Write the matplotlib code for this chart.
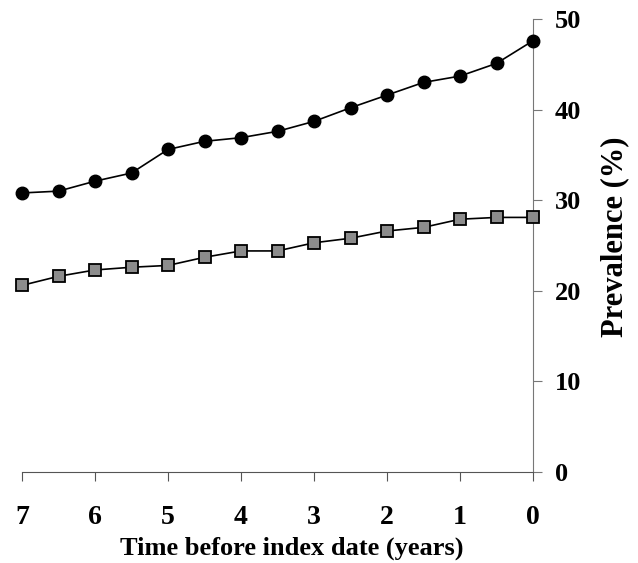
import matplotlib.pyplot as plt

# Time before index date (years)
years = [7, 6.5, 6, 5.5, 5, 4.5, 4, 3.5, 3, 2.5, 2, 1.5, 1, 0.5, 0]
# circles (upper series)
prev_circle = [30.8, 31.0, 32.1, 33.0, 35.6, 36.5, 36.9, 37.6, 38.7,
               40.2, 41.6, 43.0, 43.7, 45.1, 47.6]
# squares (lower series)
prev_square = [20.6, 21.6, 22.3, 22.6, 22.8, 23.7, 24.4, 24.4, 25.3,
               25.8, 26.6, 27.0, 27.9, 28.1, 28.1]
xticks = [7, 6, 5, 4, 3, 2, 1, 0]
yticks = [0, 10, 20, 30, 40, 50]

plt.rcParams['font.family'] = 'Liberation Serif'
plt.rcParams['font.weight'] = 'bold'

fig = plt.figure(figsize=(6.38, 5.63), dpi=100)
ax = fig.add_axes([22 / 638, 1 - 472 / 563, (533 - 22) / 638, (472 - 19) / 563])

ax.plot(years, prev_circle, color='black', lw=1.2, marker='o', ms=9,
        mfc='black', mec='black', clip_on=False, zorder=3)
ax.plot(years, prev_square, color='black', lw=1.2, marker='s', ms=8,
        mfc='#8c8c8c', mec='black', mew=1.3, clip_on=False, zorder=3)

ax.set_xlim(7, 0)
ax.set_ylim(0, 50)
ax.set_xticks(xticks)
ax.set_yticks(yticks)

ax.spines['top'].set_visible(False)
ax.spines['left'].set_visible(False)
ax.spines['bottom'].set_color('#555555')
ax.spines['right'].set_color('#777777')
ax.spines['bottom'].set_linewidth(0.8)
ax.spines['right'].set_linewidth(0.8)

ax.yaxis.tick_right()
ax.yaxis.set_label_position('right')
ax.tick_params(axis='x', direction='out', length=6.5, width=0.8, color='#555555',
               pad=17, labelsize=20)
ax.tick_params(axis='y', direction='out', length=6.5, width=0.8, color='#777777',
               pad=9, labelsize=19)
for lab in ax.get_xticklabels() + ax.get_yticklabels():
    lab.set_fontweight('bold')

ax.set_xlabel('Time before index date (years)', fontsize=19, fontweight='bold',
              va='center')
ax.xaxis.set_label_coords(0.528, -0.168)
ax.set_ylabel('Prevalence (%)', fontsize=22, fontweight='bold',
              rotation=90, va='center', ha='center')
ax.yaxis.set_label_coords(1.16, 0.52)

fig.savefig('out.png', dpi=100)
